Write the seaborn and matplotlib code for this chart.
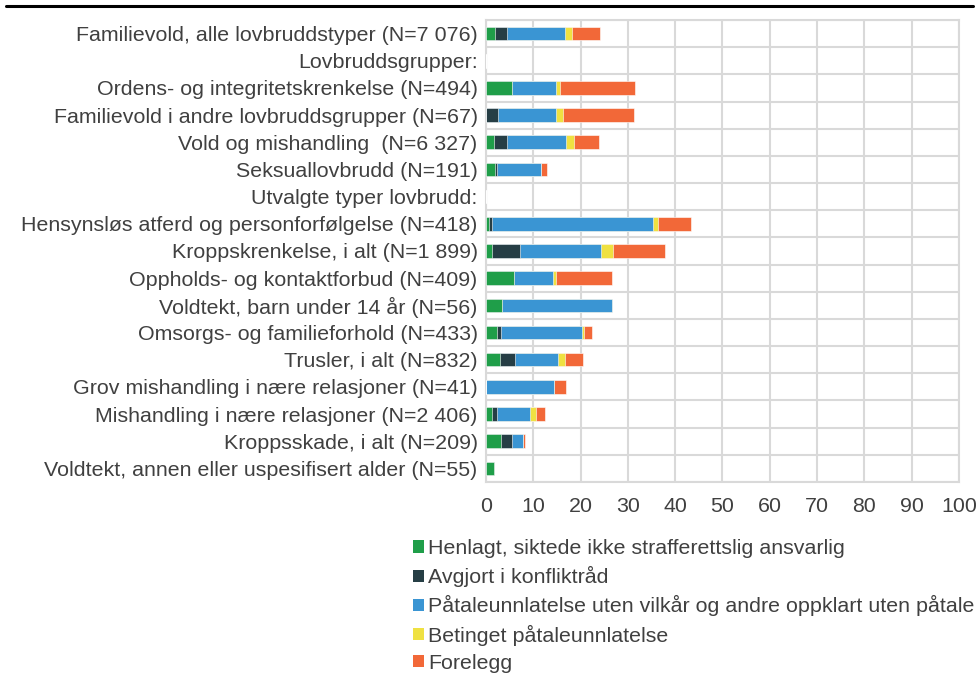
import matplotlib
matplotlib.use("Agg")
import matplotlib.pyplot as plt
import seaborn as sns
import numpy as np
import pandas as pd
from matplotlib.patches import Patch
from matplotlib.lines import Line2D

categories = [
    "Familievold, alle lovbruddstyper (N=7 076)",
    "Lovbruddsgrupper:",
    "Ordens- og integritetskrenkelse (N=494)",
    "Familievold i andre lovbruddsgrupper (N=67)",
    "Vold og mishandling  (N=6 327)",
    "Seksuallovbrudd (N=191)",
    "Utvalgte typer lovbrudd:",
    "Hensynsløs atferd og personforfølgelse (N=418)",
    "Kroppskrenkelse, i alt (N=1 899)",
    "Oppholds- og kontaktforbud (N=409)",
    "Voldtekt, barn under 14 år (N=56)",
    "Omsorgs- og familieforhold (N=433)",
    "Trusler, i alt (N=832)",
    "Grov mishandling i nære relasjoner (N=41)",
    "Mishandling i nære relasjoner (N=2 406)",
    "Kroppsskade, i alt (N=209)",
    "Voldtekt, annen eller uspesifisert alder (N=55)",
]

series_names = [
    "Henlagt, siktede ikke strafferettslig ansvarlig",
    "Avgjort i konfliktråd",
    "Påtaleunnlatelse uten vilkår og andre oppklart uten påtale",
    "Betinget påtaleunnlatelse",
    "Forelegg",
]

henlagt = [1.9, 0, 5.5, 0.0, 1.7, 1.9, 0, 0.7, 1.2, 5.9, 3.3, 2.3, 2.9, 0.0, 1.2, 3.2, 1.6]
konfliktraad = [2.5, 0, 0.0, 2.6, 2.8, 0.4, 0, 0.6, 5.9, 0.0, 0.0, 0.8, 3.2, 0.0, 1.2, 2.2, 0.0]
paataleunnl = [12.3, 0, 9.3, 12.1, 12.5, 9.4, 0, 34.0, 17.2, 8.2, 23.3, 17.2, 9.2, 14.3, 6.8, 2.4, 0.0]
betinget = [1.4, 0, 0.8, 1.5, 1.6, 0.0, 0, 1.0, 2.5, 0.8, 0.0, 0.4, 1.5, 0.0, 1.3, 0.0, 0.0]
forelegg = [6.0, 0, 15.8, 15.0, 5.2, 1.1, 0, 7.1, 11.0, 11.8, 0.0, 1.7, 3.8, 2.6, 2.0, 0.5, 0.0]

colors = ["#1F9E49", "#263E45", "#3A95D3", "#EFE142", "#F26838"]

series = [henlagt, konfliktraad, paataleunnl, betinget, forelegg]
cum = np.cumsum(np.array(series), axis=0)

df = pd.DataFrame({"kategori": categories})
for i, name in enumerate(series_names):
    df[f"cum{i}"] = cum[i]

sns.set_theme(style="white")
plt.rcParams["font.family"] = ["Liberation Sans", "DejaVu Sans"]

FS = 15.4

fig = plt.figure(figsize=(9.79, 6.77), dpi=100)
ax = fig.add_axes([486 / 979, 1 - 482 / 677, (959 - 486) / 979, (482 - 20) / 677])

for i in reversed(range(len(series_names))):
    sns.barplot(data=df, y="kategori", x=f"cum{i}", order=categories,
                color=colors[i], orient="h", width=0.5, ax=ax,
                saturation=1, edgecolor="white", linewidth=0.4, zorder=3)

ax.set_xlim(0, 100)
ax.set_ylim(len(categories) - 0.5, -0.5)
ax.set_xticks(np.arange(0, 101, 10))
ax.set_yticks(np.arange(len(categories)))
ax.set_yticklabels(categories)
ax.set_yticks(np.arange(-0.5, len(categories), 1), minor=True)
ax.set_xlabel("")
ax.set_ylabel("")
ax.grid(False)
ax.grid(True, axis="x", which="major", color="#D9D9D9", linewidth=1.5, zorder=0)
ax.grid(True, axis="y", which="minor", color="#D9D9D9", linewidth=1.5, zorder=0)
ax.set_axisbelow(True)
for s in ax.spines.values():
    s.set_color("#D9D9D9")
    s.set_linewidth(1.5)
ax.tick_params(axis="both", which="both", length=0, labelsize=FS, labelcolor="#404040")
ax.tick_params(axis="x", pad=11)
ax.tick_params(axis="y", pad=6)

handles = [Patch(facecolor=c, edgecolor="none") for c in colors]
fig.legend(handles, series_names, loc="upper left",
           bbox_to_anchor=(413 / 979, 1 - 539 / 677), frameon=False,
           fontsize=FS, labelcolor="#404040", handlelength=0.5, handleheight=0.5,
           handletextpad=0.2, labelspacing=0.38, borderpad=0, borderaxespad=0)

fig.add_artist(Line2D([6 / 979, 973 / 979], [1 - 6 / 677, 1 - 6 / 677],
                      color="black", linewidth=2.2, transform=fig.transFigure))

fig.savefig("out.png", dpi=100)
